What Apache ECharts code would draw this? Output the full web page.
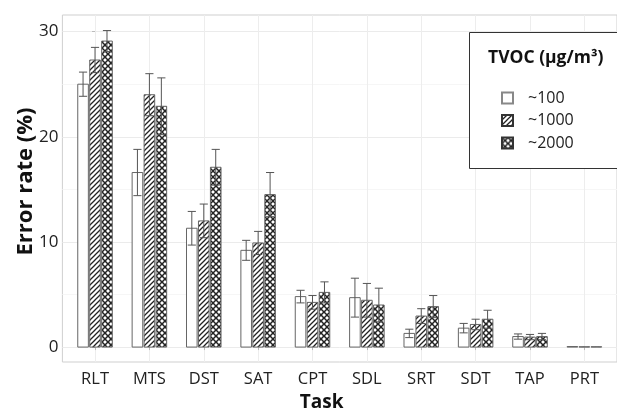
<!DOCTYPE html>
<html><head><meta charset="utf-8">
<script src="https://cdn.jsdelivr.net/npm/echarts@6/dist/echarts.min.js"></script>
<style>html,body{margin:0;padding:0;background:#fff}#c{width:617px;height:417px}</style>
</head><body><div id="c"></div>
<script>
const tasks = ['RLT','MTS','DST','SAT','CPT','SDL','SRT','SDT','TAP','PRT'];
const groupNames = ['~100','~1000','~2000'];
const tvoc100     = [25.0, 16.6, 11.3,  9.2, 4.8,  4.7, 1.3,  1.8,  1.0, 0.05];
const tvoc100Err  = [1.15, 2.2,  1.6,  0.95, 0.6,  1.85, 0.4, 0.45, 0.25, 0];
const tvoc1000    = [27.3, 24.0, 12.0,  9.9, 4.25, 4.45, 2.95, 2.15, 0.95, 0.03];
const tvoc1000Err = [1.2,  2.0,  1.6,  1.1,  0.65, 1.6,  0.7,  0.5,  0.25, 0];
const tvoc2000    = [29.1, 22.9, 17.1, 14.5, 5.2,  4.0,  3.85, 2.65, 1.0, 0.03];
const tvoc2000Err = [1.0,  2.7,  1.7,  2.1,  1.0,  1.6,  1.05, 0.85, 0.3, 0];
const yTicks = [0, 10, 20, 30];
const yMinorTicks = [5, 15, 25];

const FONT = 'Open Sans';

function makeTile(size, draw){
  const c = document.createElement('canvas');
  c.width = c.height = size;
  const g = c.getContext('2d');
  g.fillStyle = '#fff'; g.fillRect(0,0,size,size);
  g.strokeStyle = '#222';
  draw(g, size);
  return c;
}
function slash(g,t){
  g.beginPath();
  g.moveTo(-1,t+1); g.lineTo(t+1,-1);
  g.moveTo(-1,1); g.lineTo(1,-1);
  g.moveTo(t-1,t+1); g.lineTo(t+1,t-1);
  g.stroke();
}
function backslash(g,t){
  g.beginPath();
  g.moveTo(-1,-1); g.lineTo(t+1,t+1);
  g.moveTo(t-1,-1); g.lineTo(t+1,1);
  g.moveTo(-1,t-1); g.lineTo(1,t+1);
  g.stroke();
}
const hatchTile = makeTile(5, (g,t)=>{ g.lineWidth = 1.3; slash(g,t); });
const crossTile = makeTile(6, (g,t)=>{ g.lineWidth = 1.5; slash(g,t); backslash(g,t); });

const fills = ['#ffffff', {image: hatchTile, repeat: 'repeat'}, {image: crossTile, repeat: 'repeat'}];
const OFF = [-0.22, 0, 0.22];
const BW = 0.195, WW = 0.15;

function makeRender(k){
  return function(params, api){
    const x = api.value(0), v = api.value(1), e = api.value(2);
    const cx = x + OFF[k];
    const a = api.coord([cx - BW/2, 0]);
    const b = api.coord([cx + BW/2, v]);
    const children = [{
      type: 'rect',
      shape: {x: a[0], y: b[1], width: b[0]-a[0], height: a[1]-b[1]},
      style: {fill: fills[k], stroke: '#666', lineWidth: 1}
    }];
    if (e > 0){
      const lo = api.coord([cx, v - e]), hi = api.coord([cx, v + e]);
      const l1 = api.coord([cx - WW/2, v + e]), r1 = api.coord([cx + WW/2, v + e]);
      const l2 = api.coord([cx - WW/2, v - e]), r2 = api.coord([cx + WW/2, v - e]);
      const st = {stroke: '#555', lineWidth: 1};
      children.push({type:'line', shape:{x1:lo[0],y1:lo[1],x2:hi[0],y2:hi[1]}, style:st});
      children.push({type:'line', shape:{x1:l1[0],y1:l1[1],x2:r1[0],y2:r1[1]}, style:st});
      children.push({type:'line', shape:{x1:l2[0],y1:l2[1],x2:r2[0],y2:r2[1]}, style:st});
    }
    return {type: 'group', children};
  };
}

const valueSets = [[tvoc100, tvoc100Err], [tvoc1000, tvoc1000Err], [tvoc2000, tvoc2000Err]];
const series = valueSets.map((vs, k) => ({
  type: 'custom',
  name: groupNames[k],
  renderItem: makeRender(k),
  encode: {x: 0, y: 1},
  itemStyle: {color: fills[k], borderColor: k === 0 ? '#888' : '#333', borderWidth: 1},
  data: tasks.map((t, i) => [i, vs[0][i], vs[1][i]]),
  clip: false,
  z: 3
}));

const chart = echarts.init(document.getElementById('c'), null, {renderer: 'canvas'});
chart.setOption({
  animation: false,
  backgroundColor: '#fff',
  textStyle: {fontFamily: FONT},
  graphic: [{
    type: 'rect', left: 469, top: 32, z: 1,
    shape: {width: 170, height: 136},
    style: {fill: '#fff', stroke: '#333', lineWidth: 1}
  }],
  title: {
    text: 'TVOC (μg/m³)', left: 483, top: 44,
    textStyle: {fontFamily: FONT, fontWeight: 'bold', fontSize: 17.5, color: '#111'}
  },
  legend: {
    left: 469, top: 32, orient: 'vertical',
    padding: [58, 10, 10, 32],
    itemWidth: 11, itemHeight: 11, itemGap: 6.5,
    icon: 'rect',
    textStyle: {fontFamily: FONT, fontSize: 16, color: '#222', padding: [0,0,0,10]},
    data: groupNames
  },
  grid: {
    left: 62.4, top: 15, width: 565.6, height: 348,
    show: true, borderColor: '#cfcfcf', borderWidth: 1, backgroundColor: '#fff'
  },
  xAxis: {
    type: 'value', min: -0.6, max: 9.6,
    name: 'Task', nameLocation: 'middle', nameGap: 31, nameMoveOverlap: false,
    nameTextStyle: {fontFamily: FONT, fontWeight: 'bold', fontSize: 19, color: '#111', padding: [0, 36, 0, 0]},
    axisLine: {show: false},
    axisTick: {show: true, length: 3, customValues: tasks.map((t,i)=>i), lineStyle: {color: '#bbb'}},
    axisLabel: {customValues: tasks.map((t,i)=>i), formatter: v => tasks[Math.round(v)], fontSize: 16.5, color: '#222', margin: 9, fontFamily: FONT},
    splitLine: {show: true, lineStyle: {color: '#ededed', width: 1}}
  },
  yAxis: [{
    type: 'value', min: -1.42, max: 31.58,
    name: 'Error rate (%)', nameLocation: 'middle', nameGap: 26, nameMoveOverlap: false,
    nameTextStyle: {fontFamily: FONT, fontWeight: 'bold', fontSize: 22, color: '#111', padding: [0, 0, 0, 14]},
    axisLine: {show: false},
    axisTick: {show: true, length: 3, customValues: yTicks, lineStyle: {color: '#bbb'}},
    axisLabel: {customValues: yTicks, fontSize: 17, color: '#222', margin: 4, fontFamily: FONT},
    splitLine: {show: true, lineStyle: {color: '#ebebeb', width: 1}}
  }, {
    type: 'value', min: -1.42, max: 31.58, position: 'left',
    axisLine: {show: false},
    axisTick: {show: false, customValues: yMinorTicks},
    axisLabel: {show: false, customValues: yMinorTicks},
    splitLine: {show: true, lineStyle: {color: '#f6f6f6', width: 1}}
  }],
  series
});
</script></body></html>
